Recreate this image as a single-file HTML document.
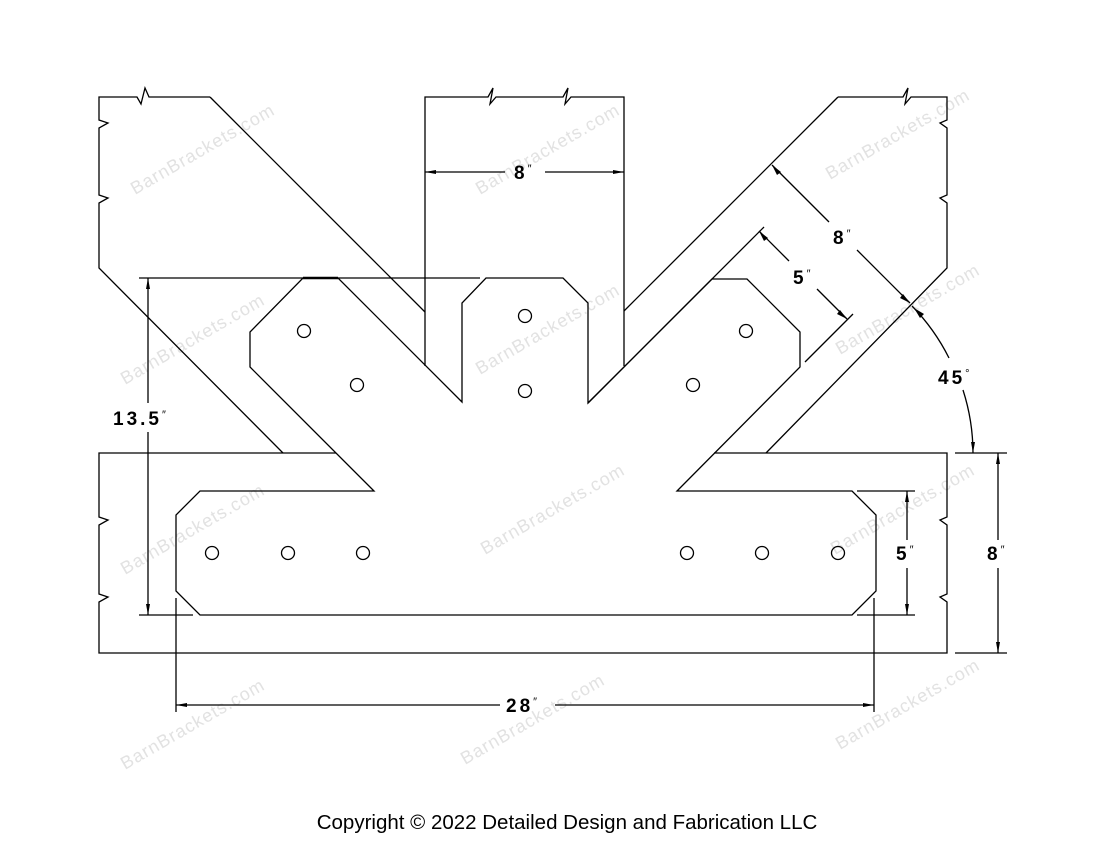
<!DOCTYPE html>
<html><head><meta charset="utf-8"><style>
html,body{margin:0;padding:0;background:#fff;}
svg{display:block;}
.l{stroke:#000;stroke-width:1.3;fill:none;}
.t{font-family:"Liberation Sans",sans-serif;font-weight:bold;font-size:19px;fill:#000;letter-spacing:3px;}
.s{font-size:11px;font-weight:normal;}
.w{font-family:"Liberation Sans",sans-serif;font-size:18px;fill:#e2e2e2;letter-spacing:1px;}
</style></head><body>
<svg width="1100" height="850" viewBox="0 0 1100 850">
<g class="w">
<text transform="translate(135,195) rotate(-30)">BarnBrackets.com</text>
<text transform="translate(480,195) rotate(-30)">BarnBrackets.com</text>
<text transform="translate(830,180) rotate(-30)">BarnBrackets.com</text>
<text transform="translate(125,385) rotate(-30)">BarnBrackets.com</text>
<text transform="translate(480,375) rotate(-30)">BarnBrackets.com</text>
<text transform="translate(840,355) rotate(-30)">BarnBrackets.com</text>
<text transform="translate(125,575) rotate(-30)">BarnBrackets.com</text>
<text transform="translate(485,555) rotate(-30)">BarnBrackets.com</text>
<text transform="translate(835,555) rotate(-30)">BarnBrackets.com</text>
<text transform="translate(125,770) rotate(-30)">BarnBrackets.com</text>
<text transform="translate(465,765) rotate(-30)">BarnBrackets.com</text>
<text transform="translate(840,750) rotate(-30)">BarnBrackets.com</text>
</g>
<g class="l">
<polyline points="210,97 149,97 145,88 141,104 137,97 99,97 99,120 108,123 99,128 99,195 108,198 99,203 99,268 283,453"/>
<line x1="210" y1="97" x2="425" y2="312"/>
<polyline points="425,366 425,97 488,97 493,88 490,104 496,97 563,97 568,88 565,104 571,97 624,97 624,366"/>
<polyline points="838,97 903,97 908,88 905,104 911,97 947,97 947,120 940,123 947,128 947,195 940,198 947,203 947,268 766,453"/>
<line x1="838" y1="97" x2="624" y2="311"/>
<polyline points="336,453 99,453 99,517 108,520 99,525 99,594 108,597 99,602 99,653 947,653 947,602 940,597 947,594 947,525 940,520 947,517 947,453 714,453"/>
<polygon points="303,278 338,278 462,402 462,303 486,278 563,278 588,303 588,403 712,279 747,279 800,332 800,367 677,491 852,491 876,515 876,591 852,615 200,615 176,591 176,515 200,491 374,491 250,367 250,332"/>
<line x1="303" y1="278" x2="338" y2="278" style="stroke-width:2.5"/>
<line x1="139" y1="278" x2="303" y2="278"/>
<line x1="338" y1="278" x2="480" y2="278"/>
<line x1="139" y1="615" x2="193" y2="615"/>
<line x1="588" y1="403" x2="764" y2="227"/>
<line x1="805" y1="362" x2="853" y2="314"/>
<line x1="176" y1="598" x2="176" y2="712"/>
<line x1="874" y1="598" x2="874" y2="712"/>
<line x1="857" y1="491" x2="915" y2="491"/>
<line x1="857" y1="615" x2="915" y2="615"/>
<line x1="955" y1="453" x2="1007" y2="453"/>
<line x1="955" y1="653" x2="1007" y2="653"/>
<line x1="425" y1="172" x2="505" y2="172"/><line x1="545" y1="172" x2="624" y2="172"/>
<line x1="148" y1="278" x2="148" y2="403"/><line x1="148" y1="432" x2="148" y2="615"/>
<line x1="176" y1="705" x2="500" y2="705"/><line x1="555" y1="705" x2="874" y2="705"/>
<line x1="907" y1="491" x2="907" y2="540"/><line x1="907" y1="568" x2="907" y2="615"/>
<line x1="998" y1="453" x2="998" y2="540"/><line x1="998" y1="568" x2="998" y2="653"/>
<line x1="772" y1="165" x2="829" y2="222"/><line x1="857" y1="250" x2="910" y2="303"/>
<line x1="759" y1="231" x2="789" y2="261"/><line x1="817" y1="289" x2="847" y2="319"/>
<path d="M912,306 A207,207 0 0 1 949,358"/>
<path d="M963,390 A207,207 0 0 1 973,453"/>
<circle cx="304" cy="331" r="6.5"/><circle cx="357" cy="385" r="6.5"/>
<circle cx="525" cy="316" r="6.5"/><circle cx="525" cy="391" r="6.5"/>
<circle cx="746" cy="331" r="6.5"/><circle cx="693" cy="385" r="6.5"/>
<circle cx="212" cy="553" r="6.5"/><circle cx="288" cy="553" r="6.5"/><circle cx="363" cy="553" r="6.5"/>
<circle cx="687" cy="553" r="6.5"/><circle cx="762" cy="553" r="6.5"/><circle cx="838" cy="553" r="6.5"/>
</g>
<g fill="#000">
<polygon points="425,172 436,170 436,174"/><polygon points="624,172 613,170 613,174"/>
<polygon points="148,278 146,289 150,289"/><polygon points="148,615 146,604 150,604"/>
<polygon points="176,705 187,703 187,707"/><polygon points="874,705 863,703 863,707"/>
<polygon points="907,491 905,502 909,502"/><polygon points="907,615 905,604 909,604"/>
<polygon points="998,453 996,464 1000,464"/><polygon points="998,653 996,642 1000,642"/>
<polygon points="772,165 777,175 781,172"/><polygon points="910,303 900,298 903,294"/>
<polygon points="759,231 764,241 768,238"/><polygon points="847,319 837,314 840,310"/>
<polygon points="914,308 920,318 924,314"/><polygon points="973,453 971,442 975,442"/>
</g>
<g class="t">
<text x="514" y="179">8<tspan class="s" dy="-7">″</tspan></text>
<text x="113" y="425">13.5<tspan class="s" dy="-7">″</tspan></text>
<text x="506" y="712">28<tspan class="s" dy="-7">″</tspan></text>
<text x="896" y="560">5<tspan class="s" dy="-7">″</tspan></text>
<text x="987" y="560">8<tspan class="s" dy="-7">″</tspan></text>
<text x="833" y="244">8<tspan class="s" dy="-7">″</tspan></text>
<text x="793" y="284">5<tspan class="s" dy="-7">″</tspan></text>
<text x="938" y="384">45<tspan class="s" dy="-7">°</tspan></text>
</g>
<text x="567" y="829" text-anchor="middle" style="font-family:'Liberation Sans',sans-serif;font-size:20.5px;fill:#000;">Copyright © 2022 Detailed Design and Fabrication LLC</text>
</svg>
</body></html>
